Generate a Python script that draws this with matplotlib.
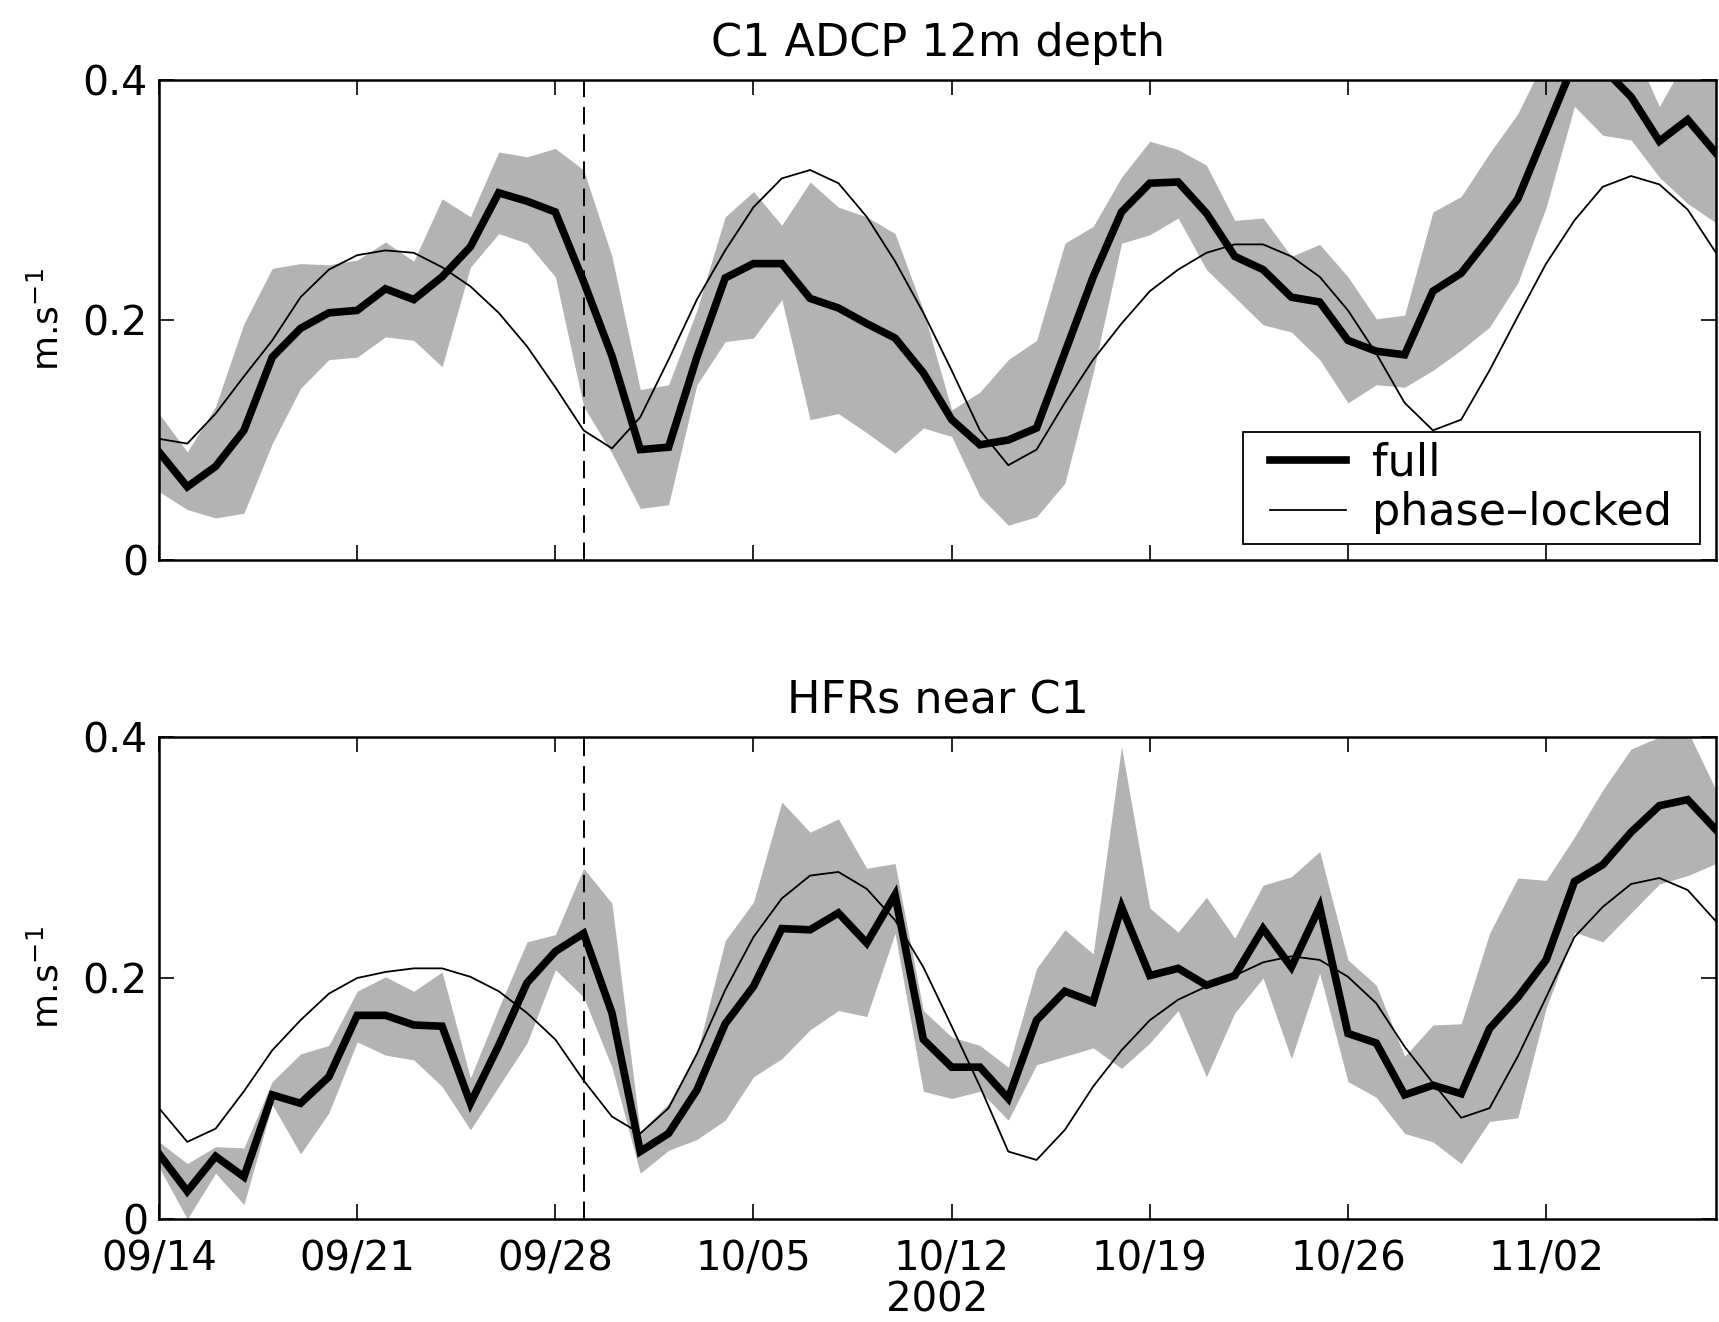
import matplotlib
matplotlib.use("Agg")
import matplotlib.pyplot as plt
from matplotlib.path import Path
import numpy as np

plt.rcParams['font.family'] = ['DejaVu Sans']

# day index since 09/14/2002
days = list(range(56))
tick_days = [0, 7, 14, 21, 28, 35, 42, 49]
tick_labels = ['09/14', '09/21', '09/28', '10/05', '10/12', '10/19', '10/26', '11/02']
event_day = 15

# ---- top panel: C1 ADCP 12m depth
adcp_full = [0.090, 0.061, 0.078, 0.108, 0.169, 0.193, 0.206, 0.208, 0.226, 0.217,
             0.236, 0.261, 0.306, 0.299, 0.290, 0.232, 0.170, 0.092, 0.094, 0.169,
             0.235, 0.247, 0.247, 0.218, 0.210, 0.197, 0.185, 0.156, 0.117, 0.096,
             0.100, 0.110, 0.173, 0.236, 0.290, 0.314, 0.315, 0.289, 0.253, 0.242,
             0.219, 0.215, 0.183, 0.174, 0.171, 0.224, 0.239, 0.269, 0.301, 0.358,
             0.415, 0.410, 0.386, 0.349, 0.367, 0.339]
adcp_phase = [0.101, 0.097, 0.122, 0.153, 0.183, 0.219, 0.242, 0.254, 0.258, 0.256,
              0.244, 0.228, 0.206, 0.178, 0.144, 0.108, 0.093, 0.119, 0.167, 0.217,
              0.258, 0.294, 0.318, 0.325, 0.314, 0.286, 0.249, 0.206, 0.158, 0.108,
              0.079, 0.092, 0.131, 0.167, 0.197, 0.224, 0.242, 0.256, 0.263, 0.263,
              0.253, 0.236, 0.208, 0.172, 0.131, 0.108, 0.117, 0.158, 0.203, 0.247,
              0.283, 0.311, 0.320, 0.313, 0.292, 0.256]
adcp_upper = [0.122, 0.090, 0.128, 0.197, 0.243, 0.247, 0.246, 0.250, 0.265, 0.249,
              0.301, 0.286, 0.340, 0.336, 0.343, 0.325, 0.253, 0.142, 0.146, 0.208,
              0.286, 0.307, 0.279, 0.315, 0.294, 0.286, 0.272, 0.208, 0.125, 0.140,
              0.167, 0.183, 0.264, 0.278, 0.319, 0.349, 0.342, 0.329, 0.283, 0.285,
              0.253, 0.263, 0.236, 0.201, 0.204, 0.290, 0.303, 0.339, 0.372, 0.420,
              0.450, 0.450, 0.430, 0.378, 0.420, 0.410]
adcp_lower = [0.057, 0.042, 0.035, 0.039, 0.097, 0.143, 0.167, 0.169, 0.186, 0.183,
              0.161, 0.244, 0.272, 0.264, 0.236, 0.128, 0.089, 0.043, 0.046, 0.146,
              0.182, 0.185, 0.217, 0.117, 0.122, 0.106, 0.089, 0.110, 0.103, 0.053,
              0.029, 0.036, 0.064, 0.156, 0.264, 0.271, 0.285, 0.242, 0.219, 0.196,
              0.190, 0.167, 0.131, 0.146, 0.144, 0.158, 0.175, 0.194, 0.231, 0.294,
              0.378, 0.354, 0.350, 0.319, 0.297, 0.281]

# ---- bottom panel: HFRs near C1
hfr_full = [0.054, 0.023, 0.052, 0.035, 0.103, 0.096, 0.118, 0.169, 0.169, 0.161,
            0.160, 0.096, 0.144, 0.196, 0.222, 0.237, 0.171, 0.056, 0.071, 0.107,
            0.162, 0.193, 0.241, 0.240, 0.254, 0.229, 0.269, 0.149, 0.126, 0.126,
            0.100, 0.165, 0.189, 0.180, 0.259, 0.202, 0.208, 0.194, 0.202, 0.241,
            0.209, 0.259, 0.154, 0.146, 0.103, 0.111, 0.104, 0.158, 0.184, 0.215,
            0.280, 0.294, 0.321, 0.343, 0.348, 0.323]
hfr_phase = [0.092, 0.064, 0.075, 0.106, 0.140, 0.165, 0.187, 0.200, 0.205, 0.208,
             0.208, 0.201, 0.189, 0.171, 0.149, 0.115, 0.085, 0.071, 0.092, 0.137,
             0.190, 0.234, 0.266, 0.285, 0.288, 0.274, 0.248, 0.209, 0.160, 0.110,
             0.056, 0.049, 0.074, 0.110, 0.140, 0.165, 0.182, 0.193, 0.202, 0.213,
             0.218, 0.215, 0.201, 0.179, 0.143, 0.113, 0.084, 0.092, 0.135, 0.184,
             0.234, 0.259, 0.278, 0.283, 0.273, 0.247]
hfr_upper = [0.064, 0.046, 0.060, 0.059, 0.114, 0.137, 0.144, 0.189, 0.201, 0.189,
             0.205, 0.117, 0.175, 0.230, 0.236, 0.291, 0.262, 0.072, 0.096, 0.137,
             0.231, 0.263, 0.346, 0.321, 0.332, 0.291, 0.295, 0.173, 0.151, 0.144,
             0.126, 0.208, 0.240, 0.220, 0.392, 0.258, 0.238, 0.267, 0.233, 0.277,
             0.284, 0.305, 0.215, 0.194, 0.135, 0.161, 0.162, 0.237, 0.283, 0.281,
             0.317, 0.356, 0.390, 0.400, 0.405, 0.356]
hfr_lower = [0.043, 0.000, 0.038, 0.012, 0.095, 0.054, 0.088, 0.147, 0.136, 0.132,
             0.110, 0.074, 0.110, 0.146, 0.207, 0.184, 0.126, 0.038, 0.057, 0.066,
             0.082, 0.118, 0.133, 0.157, 0.173, 0.168, 0.237, 0.106, 0.100, 0.106,
             0.082, 0.128, 0.135, 0.142, 0.125, 0.146, 0.173, 0.118, 0.171, 0.200,
             0.133, 0.204, 0.114, 0.101, 0.071, 0.064, 0.046, 0.081, 0.084, 0.175,
             0.238, 0.230, 0.254, 0.278, 0.285, 0.295]

fig = plt.figure(figsize=(17.19, 13.22), dpi=100)
left, width = 159 / 1719, 1557 / 1719
ax1 = fig.add_axes([left, 1 - 560 / 1322, width, 480 / 1322])
ax2 = fig.add_axes([left, 1 - 1219 / 1322, width, 482 / 1322])

panels = [
    (ax1, adcp_full, adcp_phase, adcp_upper, adcp_lower, 'C1 ADCP 12m depth'),
    (ax2, hfr_full, hfr_phase, hfr_upper, hfr_lower, 'HFRs near C1'),
]

for ax, full, phase, upper, lower, title in panels:
    ax.fill_between(days, lower, upper, color='#b3b3b3', linewidth=0, zorder=1)
    ax.plot(days, full, color='black', linewidth=5.5, solid_joinstyle='miter', zorder=3, label='full')
    ax.plot(days, phase, color='black', linewidth=1.3, zorder=4, label='phase\u2013locked')
    ax.axvline(event_day, color='black', linewidth=1.4, linestyle=(0, (9, 5)), zorder=2)
    ax.set_xlim(0, 55)
    ax.set_ylim(0, 0.4)
    ax.set_yticks([0, 0.2, 0.4])
    ax.set_yticklabels(['0', '0.2', '0.4'])
    ax.set_xticks(tick_days)
    ax.tick_params(direction='in', length=11, width=1.2, top=True, right=True,
                   labelsize=29.5)
    ax.tick_params(axis='y', pad=8)
    for sp in ax.spines.values():
        sp.set_linewidth(1.8)
    ax.set_title(title, fontsize=32, pad=17)
    ax.set_ylabel('m.s$^{-1}$', fontsize=26)
    ax.yaxis.set_label_coords(-0.06, 0.5)

ax1.set_xticklabels([])
ax2.set_xticklabels(tick_labels)
ax2.tick_params(axis='x', pad=15, labelsize=29)
ax2.set_xlabel('2002', fontsize=29)
ax2.xaxis.set_label_coords(0.5, -0.1286)


def wide_box(x0, y0, w, h, mutation_size):
    # rectangular frame with extra horizontal padding only
    px = 0.4 * mutation_size
    xs = [x0 - px, x0 + w + px, x0 + w + px, x0 - px, x0 - px]
    ys = [y0, y0, y0 + h, y0 + h, y0]
    return Path(np.column_stack([xs, ys]), closed=True)


leg = ax1.legend(loc='lower right', bbox_to_anchor=(0.9782, 0.033), borderaxespad=0,
                 fontsize=32, frameon=True, fancybox=False, framealpha=1,
                 edgecolor='black', handlelength=1.7, borderpad=0.22,
                 labelspacing=0.15, handletextpad=0.6)
leg.get_frame().set_boxstyle(wide_box)
leg.get_frame().set_linewidth(1.3)

fig.savefig('out.png', dpi=100)
